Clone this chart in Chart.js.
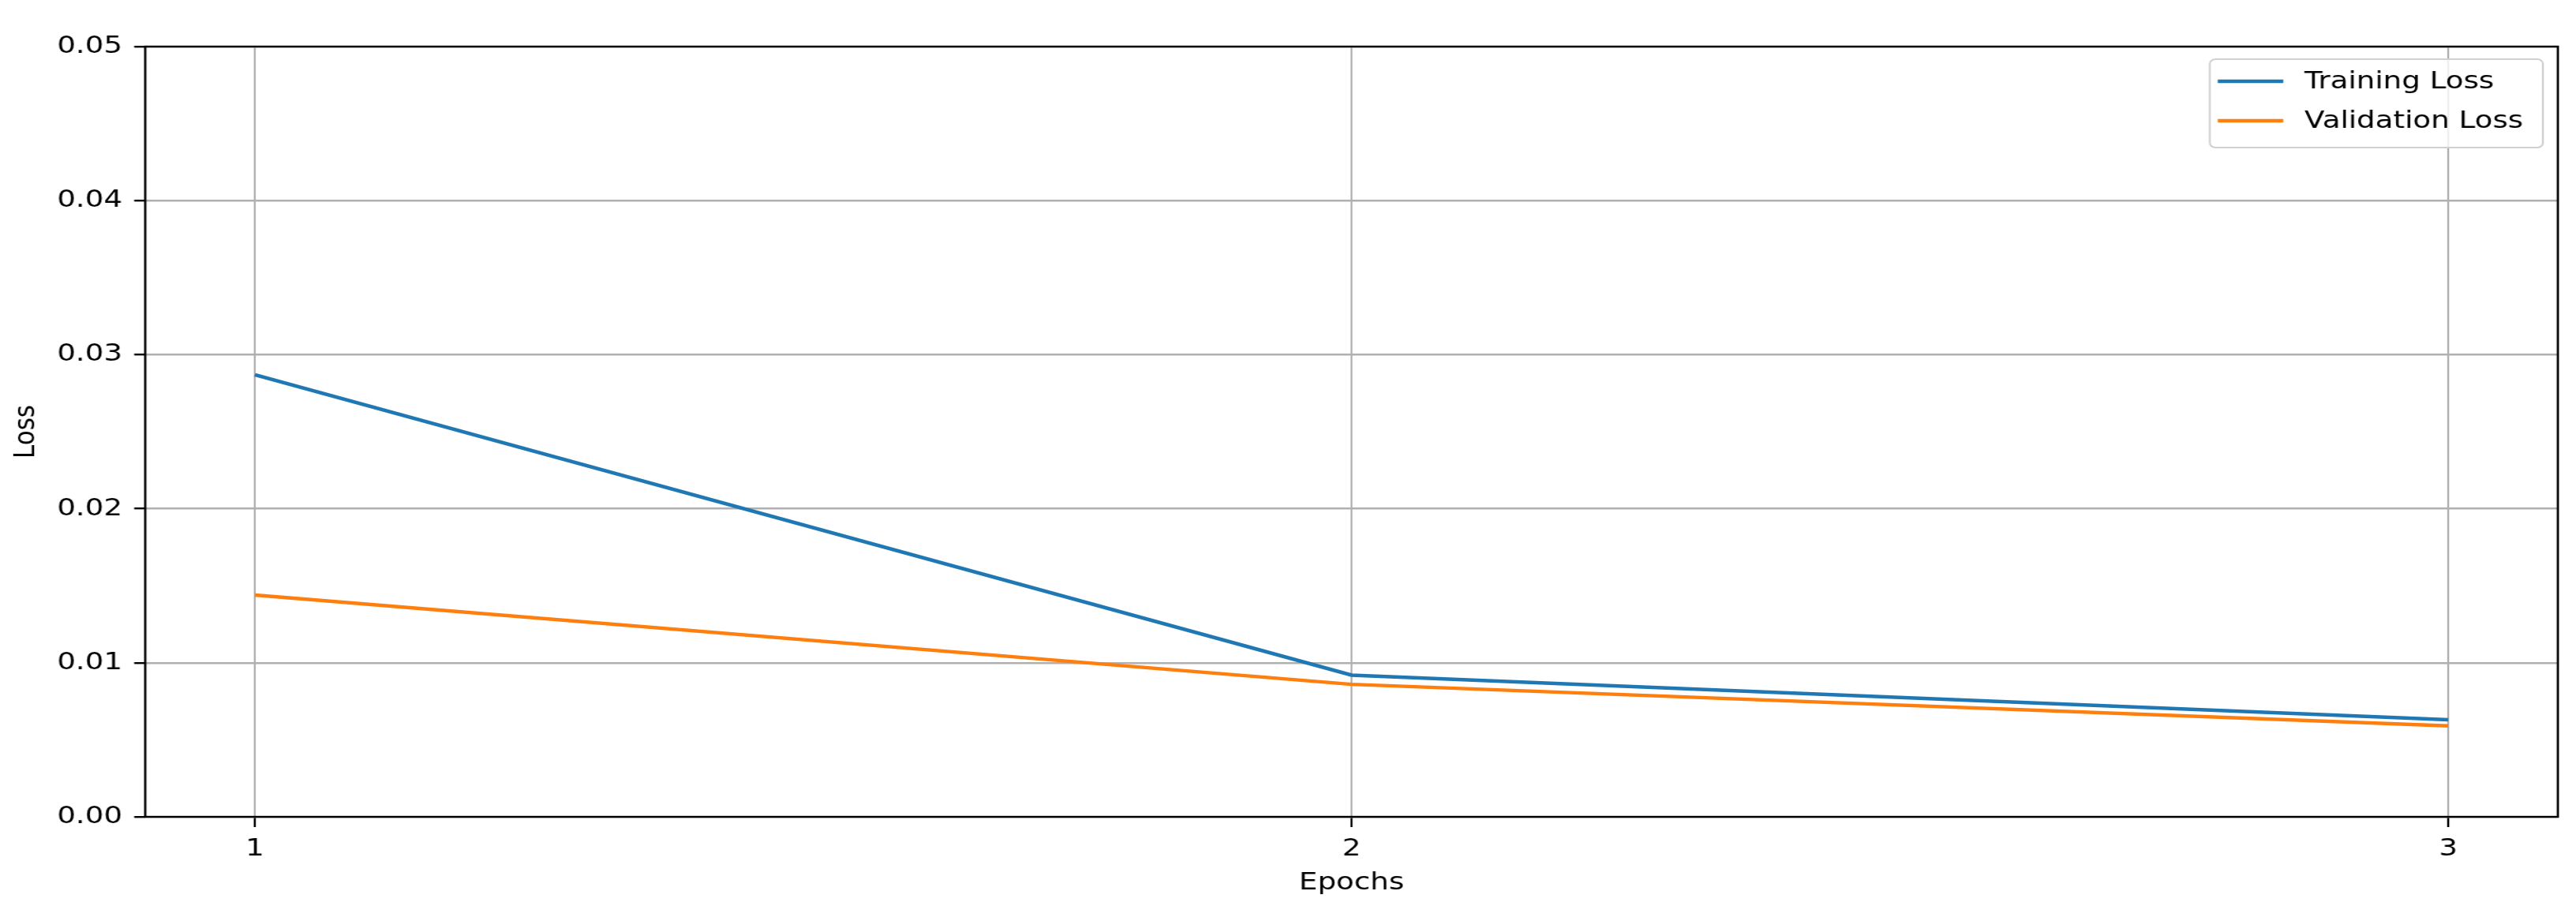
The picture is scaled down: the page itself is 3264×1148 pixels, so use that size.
<!DOCTYPE html>
<html lang="en">
<head>
  <meta charset="UTF-8" />
  <title>Training vs Validation Loss</title>
  <script src="https://cdn.jsdelivr.net/npm/chart.js"></script>
  <style>
    html, body {
      margin: 0;
      padding: 0;
      background: #ffffff;
      overflow: hidden;
    }
    /* Vorlage ist horizontal gestreckt: Canvas schmaler rendern, per CSS auf 3264px ziehen */
    #lossChart {
      display: block;
      width: 3264px !important;
      height: 1148px !important;
    }
  </style>
</head>
<body>
  <canvas id="lossChart" width="2720" height="1148"></canvas>

  <script>
    // Werte
    const epochs = [1, 2, 3];
    const trainingLoss = [0.0287, 0.0092, 0.0063];
    const validationLoss = [0.0144, 0.0086, 0.0059];
    const xTicks = [1, 2, 3];
    const yTicks = [0, 0.01, 0.02, 0.03, 0.04, 0.05];

    const FONT = '"DejaVu Sans", sans-serif';
    const FS = 31;
    const SX = 3264 / 2720; // horizontale Streckung

    // Rahmen um den Plotbereich (wie matplotlib spines)
    const frame = {
      id: 'frame',
      afterDatasetsDraw(chart) {
        const { ctx, chartArea: a } = chart;
        ctx.save();
        ctx.strokeStyle = '#000';
        ctx.lineWidth = 2.4;
        ctx.strokeRect(a.left, a.top, a.right - a.left, a.bottom - a.top);
        ctx.restore();
      }
    };

    // Legende oben rechts im Plotbereich
    const innerLegend = {
      id: 'innerLegend',
      afterDraw(chart) {
        const { ctx } = chart;
        const box = { x: 2800 / SX, y: 75, w: 422 / SX, h: 112 };
        ctx.save();
        ctx.beginPath();
        ctx.roundRect(box.x, box.y, box.w, box.h, 6);
        ctx.fillStyle = 'rgba(255,255,255,0.8)';
        ctx.fill();
        ctx.strokeStyle = '#d0d0d0';
        ctx.lineWidth = 2;
        ctx.stroke();

        ctx.font = FS + 'px ' + FONT;
        ctx.textBaseline = 'middle';
        ctx.textAlign = 'left';
        chart.data.datasets.forEach((ds, i) => {
          const y = 103 + i * 50;
          ctx.beginPath();
          ctx.moveTo(2810 / SX, y);
          ctx.lineTo(2893 / SX, y);
          ctx.strokeStyle = ds.borderColor;
          ctx.lineWidth = 4.5;
          ctx.stroke();
          ctx.fillStyle = '#000';
          ctx.fillText(ds.label, 2920 / SX, y + 1);
        });
        ctx.restore();
      }
    };

    const ctx = document.getElementById('lossChart').getContext('2d');

    new Chart(ctx, {
      type: 'line',
      data: {
        datasets: [
          {
            label: 'Training Loss',
            data: epochs.map((e, i) => ({ x: e, y: trainingLoss[i] })),
            borderColor: '#1f77b4',
            borderWidth: 4.5,
            pointRadius: 0,
            tension: 0
          },
          {
            label: 'Validation Loss',
            data: epochs.map((e, i) => ({ x: e, y: validationLoss[i] })),
            borderColor: '#ff7f0e',
            borderWidth: 4.5,
            pointRadius: 0,
            tension: 0
          }
        ]
      },
      options: {
        responsive: false,
        animation: false,
        devicePixelRatio: 1,
        layout: {
          padding: { top: 59, right: 2720 - 3241 / SX, left: 0, bottom: 0 }
        },
        plugins: {
          legend: { display: false },
          tooltip: { enabled: false }
        },
        scales: {
          x: {
            type: 'linear',
            min: 0.9,
            max: 3.1,
            afterBuildTicks: s => { s.ticks = xTicks.map(v => ({ value: v })); },
            afterFit: s => { s.height = 113; },
            border: { display: false },
            grid: {
              color: '#b0b0b0',
              lineWidth: 2,
              tickColor: '#000',
              tickWidth: 2.2,
              tickLength: 13
            },
            ticks: {
              color: '#000',
              padding: 9,
              font: { family: FONT, size: FS },
              callback: v => String(v)
            },
            title: {
              display: true,
              text: 'Epochs',
              color: '#000',
              font: { family: FONT, size: FS, lineHeight: 1 },
              padding: { top: 0, bottom: 14 }
            }
          },
          y: {
            type: 'linear',
            min: 0,
            max: 0.05,
            afterBuildTicks: s => { s.ticks = yTicks.map(v => ({ value: v })); },
            afterFit: s => { s.width = 184 / SX; },
            border: { display: false },
            grid: {
              color: '#b0b0b0',
              lineWidth: 2.4,
              tickColor: '#000',
              tickWidth: 2.4,
              tickLength: 14 / SX
            },
            ticks: {
              color: '#000',
              padding: 15 / SX,
              font: { family: FONT, size: FS },
              callback: v => v.toFixed(2)
            },
            title: {
              display: true,
              text: 'Loss',
              color: '#000',
              font: { family: FONT, size: FS, lineHeight: 1 },
              padding: { top: 34 / SX - FS / 2, bottom: 0 }
            }
          }
        }
      },
      plugins: [frame, innerLegend]
    });
  </script>
</body>
</html>
